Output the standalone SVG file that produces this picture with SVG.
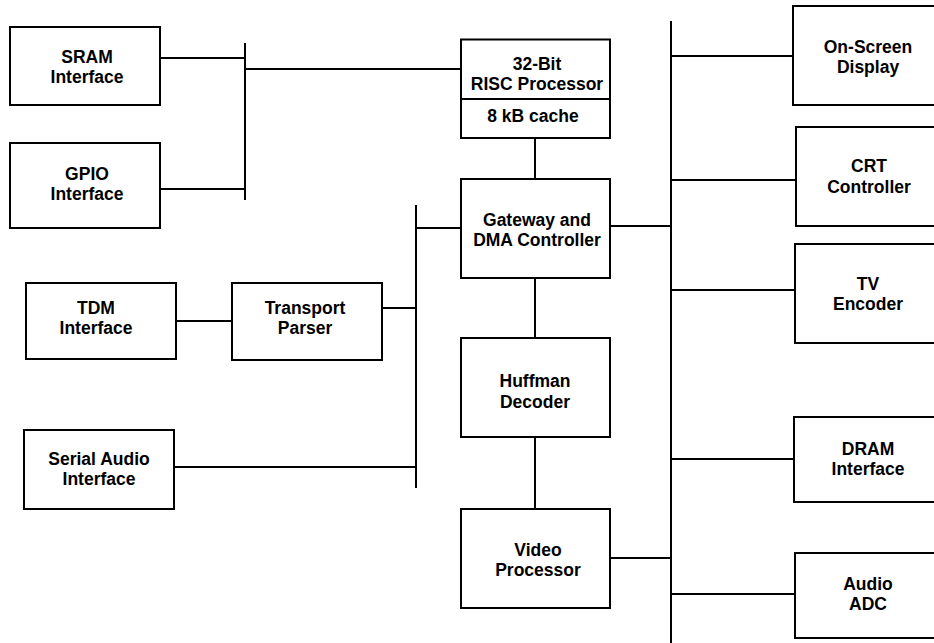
<svg xmlns="http://www.w3.org/2000/svg" width="934" height="643" viewBox="0 0 934 643">
<style>
.box{fill:#fff;stroke:#000;stroke-width:2}
.ln{fill:none;stroke:#000;stroke-width:2}
text{font-family:"Liberation Sans",Arial,sans-serif;font-weight:bold;font-size:17.5px;text-anchor:middle;fill:#000}
</style>
<rect width="934" height="643" fill="#fff"/>
<g id="connectors" class="ln">
<line x1="245" y1="43" x2="245" y2="200"/>
<line x1="160" y1="58" x2="245" y2="58"/>
<line x1="160" y1="189" x2="245" y2="189"/>
<line x1="245" y1="69" x2="461" y2="69"/>
<line x1="535" y1="138" x2="535" y2="179"/>
<line x1="535" y1="278" x2="535" y2="338"/>
<line x1="535" y1="437" x2="535" y2="509"/>
<line x1="416" y1="205" x2="416" y2="488"/>
<line x1="416" y1="228" x2="461" y2="228"/>
<line x1="176" y1="321" x2="232" y2="321"/>
<line x1="382" y1="308" x2="416" y2="308"/>
<line x1="174" y1="467" x2="416" y2="467"/>
<line x1="671" y1="21" x2="671" y2="643"/>
<line x1="610" y1="226" x2="671" y2="226"/>
<line x1="610" y1="558" x2="672" y2="558"/>
<line x1="671" y1="56" x2="793" y2="56"/>
<line x1="671" y1="180" x2="796" y2="180"/>
<line x1="671" y1="290" x2="795" y2="290"/>
<line x1="671" y1="459" x2="794" y2="459"/>
<line x1="671" y1="594" x2="795" y2="594"/>
</g>
<g id="sram"><rect class="box" x="10" y="27" width="150" height="78"/><text x="87" y="62.5">SRAM</text><text x="87" y="82.5">Interface</text></g>
<g id="gpio"><rect class="box" x="10" y="143" width="150" height="85"/><text x="87" y="180">GPIO</text><text x="87" y="200">Interface</text></g>
<g id="tdm"><rect class="box" x="26" y="283" width="150" height="76"/><text x="96" y="313.5">TDM</text><text x="96" y="333.5">Interface</text></g>
<g id="transport"><rect class="box" x="232" y="283" width="150" height="77"/><text x="305" y="313.5">Transport</text><text x="305" y="333.5">Parser</text></g>
<g id="serial"><rect class="box" x="24" y="430" width="150" height="79"/><text x="99" y="464.5">Serial Audio</text><text x="99" y="484.5">Interface</text></g>
<g id="risc"><rect class="box" x="461" y="39.5" width="149" height="98.5"/><line class="ln" x1="461" y1="99" x2="610" y2="99"/><text x="537" y="69.5">32-Bit</text><text x="537" y="89.5">RISC Processor</text><text x="533" y="121.5">8 kB cache</text></g>
<g id="gateway"><rect class="box" x="461" y="179" width="149" height="99"/><text x="537" y="225.5">Gateway and</text><text x="537" y="245.5">DMA Controller</text></g>
<g id="huffman"><rect class="box" x="461" y="338" width="149" height="99"/><text x="535" y="386.5">Huffman</text><text x="535" y="407.5">Decoder</text></g>
<g id="video"><rect class="box" x="461" y="509" width="149" height="99"/><text x="538" y="555.5">Video</text><text x="538" y="575.5">Processor</text></g>
<g id="osd"><rect class="box" x="793" y="6" width="150" height="99"/><text x="868" y="52.5">On-Screen</text><text x="868" y="72.5">Display</text></g>
<g id="crt"><rect class="box" x="796" y="127" width="150" height="99"/><text x="869" y="171.5">CRT</text><text x="869" y="192.5">Controller</text></g>
<g id="tv"><rect class="box" x="795" y="244" width="150" height="99"/><text x="868" y="289.5">TV</text><text x="868" y="309.5">Encoder</text></g>
<g id="dram"><rect class="box" x="794" y="417" width="150" height="85"/><text x="868" y="454.5">DRAM</text><text x="868" y="474.5">Interface</text></g>
<g id="adc"><rect class="box" x="795" y="553" width="150" height="85"/><text x="868" y="589.5">Audio</text><text x="868" y="609.5">ADC</text></g>
</svg>
